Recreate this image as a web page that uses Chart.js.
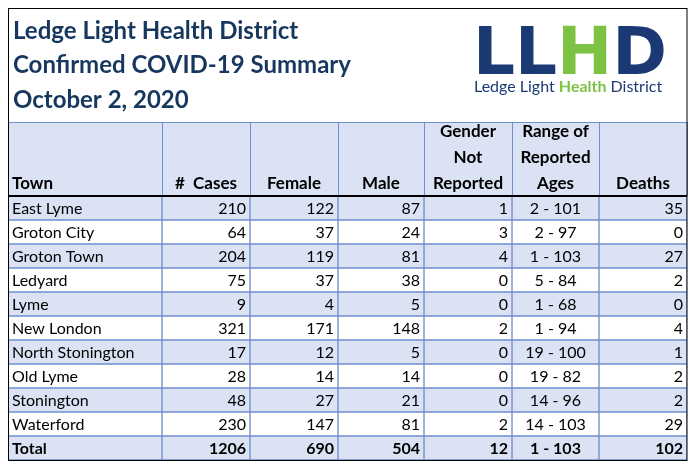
<!DOCTYPE html>
<html><head><meta charset="utf-8">
<script src="https://cdn.jsdelivr.net/npm/chart.js@4"></script>
<style>body{margin:0;background:#fff}#wrap{width:693px;height:473px}</style>
</head><body><div id="wrap"><canvas id="tbl"></canvas></div>
<script>
const towns = ["East Lyme","Groton City","Groton Town","Ledyard","Lyme","New London","North Stonington","Old Lyme","Stonington","Waterford","Total"];
const cases = [210,64,204,75,9,321,17,28,48,230,1206];
const female = [122,37,119,37,4,171,12,14,27,147,690];
const male = [87,24,81,38,5,148,5,14,21,81,504];
const notReported = [1,3,4,0,0,2,0,0,0,2,12];
const ageRange = ["2 - 101","2 - 97","1 - 103","5 - 84","1 - 68","1 - 94","19 - 100","19 - 82","14 - 96","14 - 103","1 - 103"];
const deaths = [35,0,27,2,0,4,1,2,2,29,102];
const headers = [["Town"],["#  Cases"],["Female"],["Male"],["Gender","Not","Reported"],["Range of","Reported","Ages"],["Deaths"]];
const titleLines = ["Ledge Light Health District","Confirmed COVID-19 Summary","October 2, 2020"];

// layout (column widths in px)
const colW = [154,88,88,86,88,87,88];
const columns = [towns,cases,female,male,notReported,ageRange,deaths];
const align = ["left","right","right","right","right","center","right"];
const BLUE = "#dbe2f3", LINE = "#6f8fd0", NAVY = "#17375e";
const FONT = "Lato, 'Noto Sans', sans-serif";

const rowFill = towns.map((t, i) => i % 2 === 0 ? BLUE : "#ffffff");
const datasets = colW.map((w, c) => ({
  data: towns.map(() => w),
  backgroundColor: rowFill,
  borderColor: LINE,
  borderWidth: 1,
  barPercentage: 1,
  categoryPercentage: 1,
  borderSkipped: false
}));

const tablePlugin = {
  id: "tablePlugin",
  afterDatasetsDraw(chart) {
    const ctx = chart.ctx;
    const { left, right, top, bottom } = chart.chartArea;
    ctx.save();
    // title
    ctx.fillStyle = NAVY;
    ctx.font = "bold 24px " + FONT;
    ctx.textBaseline = "middle";
    ctx.textAlign = "left";
    titleLines.forEach((t, i) => ctx.fillText(t, 13, 31 + i * 34.5));
    // logo
    ctx.font = "bold 66px 'DejaVu Sans'";
    let lx = 473;
    [["LL", "#1b3a73"], ["H", "#7dc242"], ["D", "#1b3a73"]].forEach(([s, c]) => {
      ctx.fillStyle = c;
      ctx.textBaseline = "alphabetic";
      ctx.fillText(s, lx, 74);
      lx += ctx.measureText(s).width;
    });
    ctx.textBaseline = "middle";
    let sx = 474;
    [["Ledge Light ", "#1b3a73", ""], ["Health", "#7dc242", "bold "], [" District", "#1b3a73", ""]].forEach(([s, c, b]) => {
      ctx.font = b + "16px " + FONT;
      ctx.fillStyle = c;
      ctx.fillText(s, sx, 87);
      sx += ctx.measureText(s).width;
    });
    // header row
    const hTop = 122;
    ctx.fillStyle = BLUE;
    ctx.fillRect(left, hTop, right - left, top - hTop);
    const edges = chart.data.datasets.map((d, c) => {
      const bar = chart.getDatasetMeta(c).data[0];
      return [bar.base, bar.x];
    });
    ctx.strokeStyle = LINE;
    ctx.lineWidth = 1;
    edges.forEach(([a, b]) => {
      ctx.beginPath(); ctx.moveTo(Math.round(b) + 0.5, hTop); ctx.lineTo(Math.round(b) + 0.5, top); ctx.stroke();
    });
    ctx.beginPath(); ctx.moveTo(left, hTop + 0.5); ctx.lineTo(right, hTop + 0.5); ctx.stroke();
    ctx.fillStyle = "#000";
    ctx.font = "bold 17px " + FONT;
    headers.forEach((lines, c) => {
      const [a, b] = edges[c];
      lines.forEach((t, k) => {
        const y = top - 12 - (lines.length - 1 - k) * 26;
        if (c === 0) { ctx.textAlign = "left"; ctx.fillText(t, a + 4, y); }
        else { ctx.textAlign = "center"; ctx.fillText(t, (a + b) / 2, y); }
      });
    });
    ctx.strokeStyle = "#000";
    ctx.lineWidth = 2;
    ctx.beginPath(); ctx.moveTo(left, top); ctx.lineTo(right, top); ctx.stroke();
    // cells
    columns.forEach((col, c) => {
      chart.getDatasetMeta(c).data.forEach((bar, r) => {
        const last = r === towns.length - 1;
        ctx.font = (last ? "bold " : "") + "16px " + FONT;
        ctx.fillStyle = "#000";
        ctx.textAlign = align[c];
        const a = bar.base, b = bar.x;
        const x = align[c] === "left" ? a + 4 : align[c] === "right" ? b - 4 : (a + b) / 2;
        ctx.fillText(String(col[r]), x, bar.y + 1);
      });
    });
    // outer frame
    ctx.strokeStyle = "#000";
    ctx.lineWidth = 1;
    ctx.strokeRect(8.5, 8.5, right - 8.5, bottom - 8);
    ctx.restore();
  }
};

new Chart(document.getElementById("tbl"), {
  type: "bar",
  data: { labels: towns, datasets },
  options: {
    indexAxis: "y",
    responsive: true,
    maintainAspectRatio: false,
    animation: false,
    layout: { padding: { top: 196, left: 8, right: 6, bottom: 13 } },
    scales: {
      x: { stacked: true, display: false, min: 0, max: colW.reduce((s, w) => s + w, 0) },
      y: { stacked: true, display: false }
    },
    plugins: { legend: { display: false }, tooltip: { enabled: false } }
  },
  plugins: [tablePlugin]
});
</script></body></html>
